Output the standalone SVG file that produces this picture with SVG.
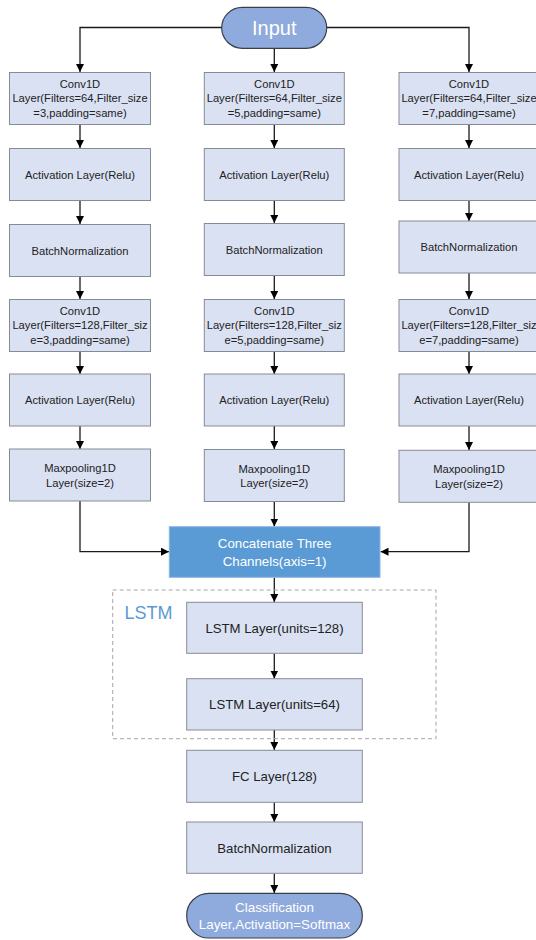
<svg xmlns="http://www.w3.org/2000/svg" width="536" height="940" viewBox="0 0 536 940">
  <style>
    .box { fill: #dae1f2; stroke: #858b96; stroke-width: 1; }
    .pill { fill: #8faadc; stroke: #3a3f4a; stroke-width: 1.2; }
    .concat { fill: #5b9bd5; stroke: #8ab6e2; stroke-width: 1; }
    .t { font-family: "Liberation Sans", Arial, sans-serif; font-size: 11.2px; fill: #222; text-anchor: middle; }
    .tl { font-family: "Liberation Sans", Arial, sans-serif; font-size: 13.2px; fill: #222; text-anchor: middle; }
    .tw { font-family: "Liberation Sans", Arial, sans-serif; font-size: 13.3px; fill: #fff; text-anchor: middle; }
    .conn { fill: none; stroke: #1a1a1a; stroke-width: 1.3; marker-end: url(#arr); }
    .group { fill: none; stroke: #a6a6a6; stroke-width: 1; stroke-dasharray: 4 3; }
  </style>
  <defs>
    <marker id="arr" markerWidth="8" markerHeight="8" refX="8" refY="4" orient="auto" markerUnits="userSpaceOnUse">
      <path d="M0,0 L8,4 L0,8 z" fill="#000"/>
    </marker>
  </defs>
  <rect width="536" height="940" fill="#fff"/>

  <!-- connectors -->
  <g id="connectors">
    <path class="conn" d="M222,27.5 H80 V72"/>
    <path class="conn" d="M274.3,48.5 V72"/>
    <path class="conn" d="M327,27.5 H469 V72"/>

    <path class="conn" d="M80,124.5 V148"/>
    <path class="conn" d="M80,200.5 V224"/>
    <path class="conn" d="M80,276.5 V299"/>
    <path class="conn" d="M80,351.5 V374"/>
    <path class="conn" d="M80,426 V449"/>

    <path class="conn" d="M274.3,124.5 V148"/>
    <path class="conn" d="M274.3,200.5 V223"/>
    <path class="conn" d="M274.3,275.5 V299"/>
    <path class="conn" d="M274.3,351.5 V374"/>
    <path class="conn" d="M274.3,426 V449"/>

    <path class="conn" d="M469,124.5 V148"/>
    <path class="conn" d="M469,200.5 V221"/>
    <path class="conn" d="M469,273 V299"/>
    <path class="conn" d="M469,351.5 V374"/>
    <path class="conn" d="M469,426 V450"/>

    <path class="conn" d="M80,501 V551.7 H169"/>
    <path class="conn" d="M274.3,501.5 V526.5"/>
    <path class="conn" d="M469,502.3 V551.7 H380.5"/>

    <path class="conn" d="M274.3,577.5 V602"/>
    <path class="conn" d="M274.3,653.5 V678.5"/>
    <path class="conn" d="M274.3,730 V750"/>
    <path class="conn" d="M274.3,802.3 V822"/>
    <path class="conn" d="M274.3,873.3 V893"/>
  </g>

  <!-- LSTM grouping frame -->
  <g id="lstm-group">
    <rect class="group" x="112.7" y="590" width="323.3" height="148.7"/>
    <text x="124.5" y="619" font-family="Liberation Sans, Arial, sans-serif" font-size="19px" fill="#5b9bd5" textLength="48" lengthAdjust="spacingAndGlyphs">LSTM</text>
  </g>

  <g id="input">
    <rect class="pill" x="221.7" y="7.3" width="105" height="41" rx="20.5"/>
    <text x="274.3" y="34.5" font-family="Liberation Sans, Arial, sans-serif" font-size="20px" fill="#fff" text-anchor="middle">Input</text>
  </g>

  <!-- branch with kernel size 3 -->
  <g id="conv64-k3">
    <rect class="box" x="9.5" y="72.5" width="141" height="52"/>
    <text class="t" x="80" y="87.5">Conv1D</text>
    <text class="t" x="80" y="102">Layer(Filters=64,Filter_size</text>
    <text class="t" x="80" y="116.5">=3,padding=same)</text>
  </g>
  <g id="relu1-k3">
    <rect class="box" x="9.5" y="148.5" width="141" height="52"/>
    <text class="t" x="80" y="178.5">Activation Layer(Relu)</text>
  </g>
  <g id="bn-k3">
    <rect class="box" x="9.5" y="224.5" width="141" height="52"/>
    <text class="t" x="80" y="254.5">BatchNormalization</text>
  </g>
  <g id="conv128-k3">
    <rect class="box" x="9.5" y="299.5" width="141" height="52"/>
    <text class="t" x="80" y="314.5">Conv1D</text>
    <text class="t" x="80" y="329">Layer(Filters=128,Filter_siz</text>
    <text class="t" x="80" y="343.5">e=3,padding=same)</text>
  </g>
  <g id="relu2-k3">
    <rect class="box" x="9.5" y="374" width="141" height="52"/>
    <text class="t" x="80" y="404">Activation Layer(Relu)</text>
  </g>
  <g id="pool-k3">
    <rect class="box" x="9.5" y="449" width="141" height="52"/>
    <text class="t" x="80" y="472">Maxpooling1D</text>
    <text class="t" x="80" y="486.5">Layer(size=2)</text>
  </g>

  <!-- branch with kernel size 5 -->
  <g id="conv64-k5">
    <rect class="box" x="204.3" y="72.5" width="140" height="52"/>
    <text class="t" x="274.3" y="87.5">Conv1D</text>
    <text class="t" x="274.3" y="102">Layer(Filters=64,Filter_size</text>
    <text class="t" x="274.3" y="116.5">=5,padding=same)</text>
  </g>
  <g id="relu1-k5">
    <rect class="box" x="204.3" y="148.5" width="140" height="52"/>
    <text class="t" x="274.3" y="178.5">Activation Layer(Relu)</text>
  </g>
  <g id="bn-k5">
    <rect class="box" x="204.3" y="223.5" width="140" height="52"/>
    <text class="t" x="274.3" y="253.5">BatchNormalization</text>
  </g>
  <g id="conv128-k5">
    <rect class="box" x="204.3" y="299.5" width="140" height="52"/>
    <text class="t" x="274.3" y="314.5">Conv1D</text>
    <text class="t" x="274.3" y="329">Layer(Filters=128,Filter_siz</text>
    <text class="t" x="274.3" y="343.5">e=5,padding=same)</text>
  </g>
  <g id="relu2-k5">
    <rect class="box" x="204.3" y="374" width="140" height="52"/>
    <text class="t" x="274.3" y="404">Activation Layer(Relu)</text>
  </g>
  <g id="pool-k5">
    <rect class="box" x="204.3" y="449.5" width="140" height="52"/>
    <text class="t" x="274.3" y="472.5">Maxpooling1D</text>
    <text class="t" x="274.3" y="487">Layer(size=2)</text>
  </g>

  <!-- branch with kernel size 7 -->
  <g id="conv64-k7">
    <rect class="box" x="399" y="72.5" width="140" height="52"/>
    <text class="t" x="469" y="87.5">Conv1D</text>
    <text class="t" x="469" y="102">Layer(Filters=64,Filter_size</text>
    <text class="t" x="469" y="116.5">=7,padding=same)</text>
  </g>
  <g id="relu1-k7">
    <rect class="box" x="399" y="148.5" width="140" height="52"/>
    <text class="t" x="469" y="178.5">Activation Layer(Relu)</text>
  </g>
  <g id="bn-k7">
    <rect class="box" x="399" y="221" width="140" height="52"/>
    <text class="t" x="469" y="251">BatchNormalization</text>
  </g>
  <g id="conv128-k7">
    <rect class="box" x="399" y="299.5" width="140" height="52"/>
    <text class="t" x="469" y="314.5">Conv1D</text>
    <text class="t" x="469" y="329">Layer(Filters=128,Filter_siz</text>
    <text class="t" x="469" y="343.5">e=7,padding=same)</text>
  </g>
  <g id="relu2-k7">
    <rect class="box" x="399" y="374" width="140" height="52"/>
    <text class="t" x="469" y="404">Activation Layer(Relu)</text>
  </g>
  <g id="pool-k7">
    <rect class="box" x="399" y="450.3" width="140" height="52"/>
    <text class="t" x="469" y="473.3">Maxpooling1D</text>
    <text class="t" x="469" y="487.8">Layer(size=2)</text>
  </g>

  <g id="concatenate">
    <rect class="concat" x="169.3" y="526.7" width="210.7" height="50.6"/>
    <text class="tw" x="274.6" y="547.5">Concatenate Three</text>
    <text class="tw" x="274.6" y="565.5">Channels(axis=1)</text>
  </g>

  <g id="lstm128">
    <rect class="box" x="186.7" y="602.3" width="175.6" height="51"/>
    <text class="tl" x="274.5" y="632.5">LSTM Layer(units=128)</text>
  </g>
  <g id="lstm64">
    <rect class="box" x="186.7" y="678.7" width="175.6" height="51.3"/>
    <text class="tl" x="274.5" y="709">LSTM Layer(units=64)</text>
  </g>
  <g id="fc128">
    <rect class="box" x="186.7" y="750.3" width="175.6" height="52"/>
    <text class="tl" x="274.5" y="781">FC Layer(128)</text>
  </g>
  <g id="bn-final">
    <rect class="box" x="186.7" y="822" width="175.6" height="51.3"/>
    <text class="tl" x="274.5" y="852.5">BatchNormalization</text>
  </g>
  <g id="classification">
    <rect class="pill" x="186.7" y="893.3" width="175.6" height="44.7" rx="22"/>
    <text x="274.5" y="912" font-family="Liberation Sans, Arial, sans-serif" font-size="13.4px" fill="#fff" text-anchor="middle">Classification</text>
    <text x="274.5" y="929" font-family="Liberation Sans, Arial, sans-serif" font-size="13.4px" fill="#fff" text-anchor="middle">Layer,Activation=Softmax</text>
  </g>
</svg>
